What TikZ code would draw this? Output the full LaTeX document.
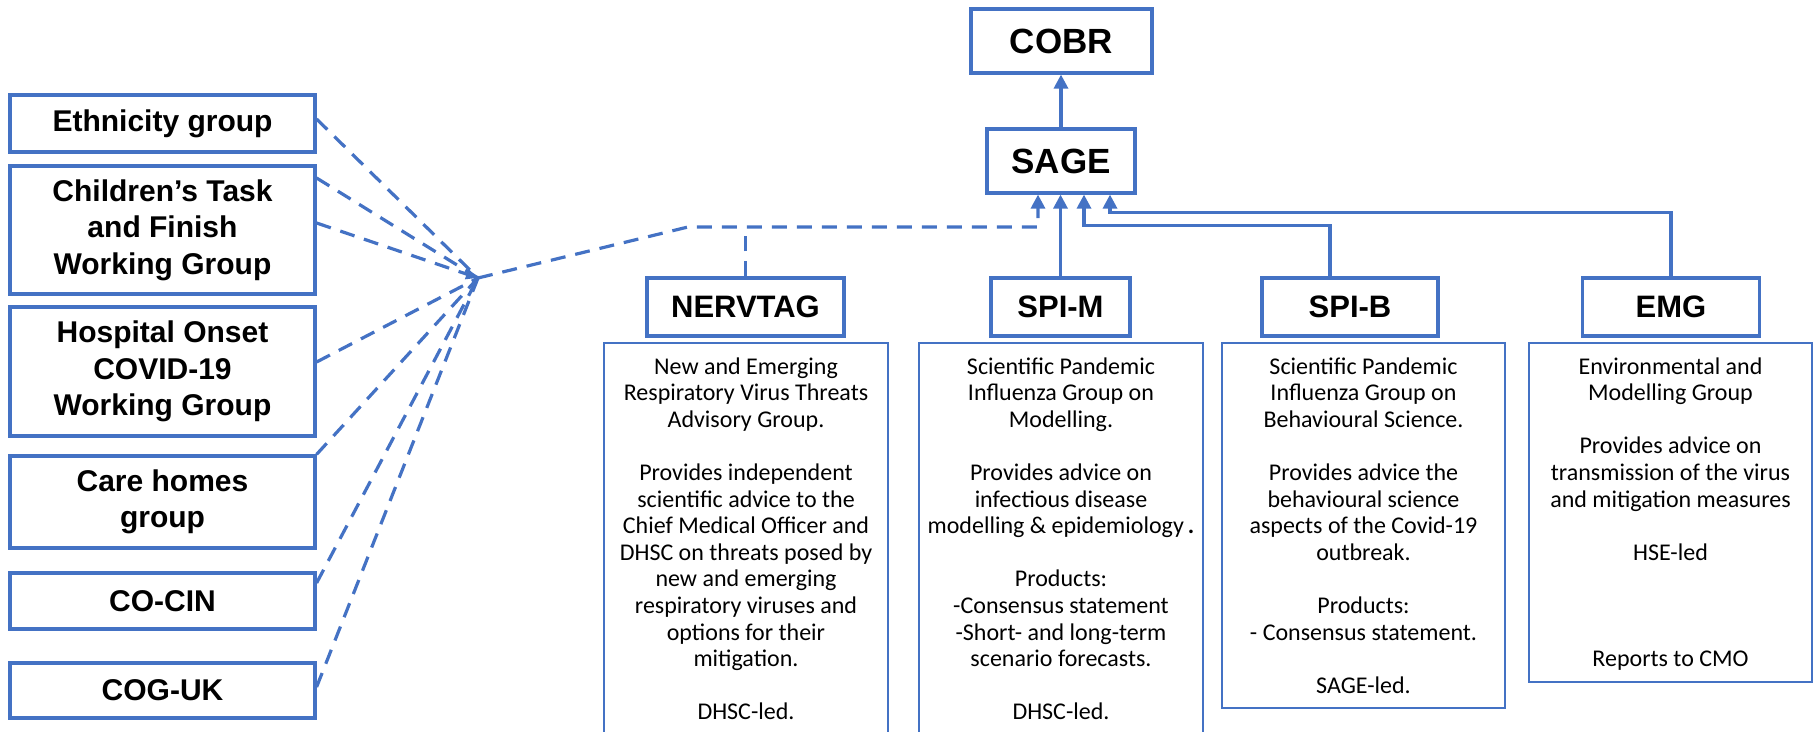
\documentclass[tikz,border=0pt]{standalone}
\usepackage{fontspec}
\setmainfont{Liberation Sans}
\newfontfamily\descfont{Carlito}
\usetikzlibrary{arrows.meta}
\definecolor{boxblue}{HTML}{4472C4}

\begin{document}
\begin{tikzpicture}[x=0.5pt, y=-0.5pt,
    group/.style={draw=boxblue, line width=1.6pt, align=center, inner sep=0pt,
        minimum width=152.5pt, font=\fontsize{15}{18.3}\selectfont\bfseries},
    head/.style={draw=boxblue, line width=1.6pt, inner sep=0pt,
        font=\fontsize{15.5}{18}\selectfont\bfseries},
    panel/.style={draw=boxblue, line width=0.8pt, inner sep=0pt, anchor=north},
    desc/.style={align=center, anchor=north, inner sep=0pt,
        font=\descfont\fontsize{12}{13.3}\selectfont},
    link/.style={draw=boxblue, line width=1.6pt},
    dlink/.style={draw=boxblue, line width=1.6pt, dash pattern=on 7.5pt off 5pt},
    tip/.style={-{Triangle[length=7pt, width=7pt]}}
]
    \useasboundingbox (0,0) rectangle (1816,732);

    % Left hand groups
    \node[group, minimum height=28.5pt] (eth) at (162.5,123.5) {Ethnicity group};
    \node[group, minimum height=64pt] (child) at (162.5,230) {Children’s Task\\and Finish\\Working Group};
    \node[group, minimum height=64.5pt] (hosp) at (162.5,371.5) {Hospital Onset\\COVID-19\\Working Group};
    \node[group, minimum height=46pt] (care) at (162.5,502) {Care homes\\group};
    \node[group, minimum height=28pt] (cocin) at (162.5,601) {CO-CIN};
    \node[group, minimum height=27.5pt] (coguk) at (162.5,690.5) {COG-UK};

    % Top of the tree
    \node[head, minimum width=90.5pt, minimum height=32pt, font=\fontsize{17.5}{21}\selectfont\bfseries] (cobr) at (1061.5,41) {COBR};
    \node[head, minimum width=74pt, minimum height=32pt, font=\fontsize{17.5}{21}\selectfont\bfseries] (sage) at (1061,161) {SAGE};

    % Sub-groups
    \node[head, minimum width=98.5pt, minimum height=29pt] (nervtag) at (745.5,307) {NERVTAG};
    \node[head, minimum width=69.5pt, minimum height=29pt] (spim) at (1060.5,307) {SPI-M};
    \node[head, minimum width=88pt, minimum height=29pt] (spib) at (1350,307) {SPI-B};
    \node[head, minimum width=88.5pt, minimum height=29pt] (emg) at (1671,307) {EMG};

    % Description panels
    \node[panel, minimum width=142pt, minimum height=200pt] (nervtagpanel) at (746,342) {};
    \node[panel, minimum width=142pt, minimum height=200pt] (spimpanel) at (1061,342) {};
    \node[panel, minimum width=141.5pt, minimum height=182.5pt] (spibpanel) at (1363.5,342) {};
    \node[panel, minimum width=141.5pt, minimum height=169.5pt] (emgpanel) at (1670.5,342) {};

    \node[desc] (nervtagtext) at (746,357) {New and Emerging\\Respiratory Virus Threats\\Advisory Group.\\[13.3pt]
        Provides independent\\scientific advice to the\\Chief Medical Officer and\\DHSC on threats posed by\\new and emerging\\respiratory viruses and\\options for their\\mitigation.\\[13.3pt]
        DHSC-led.};
    \node[desc] (spimtext) at (1061,357) {Scientific Pandemic\\Influenza Group on\\Modelling.\\[13.3pt]
        Provides advice on\\infectious disease\\modelling \& epidemiology\,\textbf{.}\\[13.3pt]
        Products:\\-Consensus statement\\-Short- and long-term\\scenario forecasts.\\[13.3pt]
        DHSC-led.};
    \node[desc] (spibtext) at (1363.5,357) {Scientific Pandemic\\Influenza Group on\\Behavioural Science.\\[13.3pt]
        Provides advice the\\behavioural science\\aspects of the Covid-19\\outbreak.\\[13.3pt]
        Products:\\- Consensus statement.\\[13.3pt]
        SAGE-led.};
    \node[desc] (emgtext) at (1670.5,357) {Environmental and\\Modelling Group\\[13.3pt]
        Provides advice on\\transmission of the virus\\and mitigation measures\\[13.3pt]
        HSE-led\\[39.9pt]
        Reports to CMO};

    % Solid arrows up to SAGE and COBR
    \draw[link, tip] (sage.north) -- (sage.north |- cobr.south);
    \draw[link, tip] (spim.north) -- (spim.north |- sage.south);
    \draw[link, tip] ([xshift=-10pt]spib.north) -- ++(0,-51) -| ([xshift=11.5pt]sage.south);
    \draw[link, tip] (emg.north) -- ++(0,-64) -| ([xshift=24.5pt]sage.south);

    % Dashed links from the left groups
    \coordinate (hub) at (478,278);
    \coordinate (bend) at (688,227);
    \draw[dlink] ([yshift=2.25pt]eth.east) -- (hub);
    \draw[dlink] ([yshift=26pt]child.east) -- (hub);
    \draw[dlink, -{Triangle[length=6pt, width=5pt]}] ([yshift=3.5pt]child.east) -- (hub);
    \draw[dlink] ([yshift=4.75pt]hosp.east) -- (hub);
    \draw[dlink] (care.north east) -- (hub);
    \draw[dlink] ([yshift=9pt]cocin.east) -- (hub);
    \draw[dlink] ([yshift=1.75pt]coguk.east) -- (hub);
    \draw[dlink, tip] (hub) -- (bend) -| ([xshift=-11.5pt]sage.south);
    \draw[dlink] (nervtag.north) -- (nervtag.north |- bend);
\end{tikzpicture}
\end{document}
